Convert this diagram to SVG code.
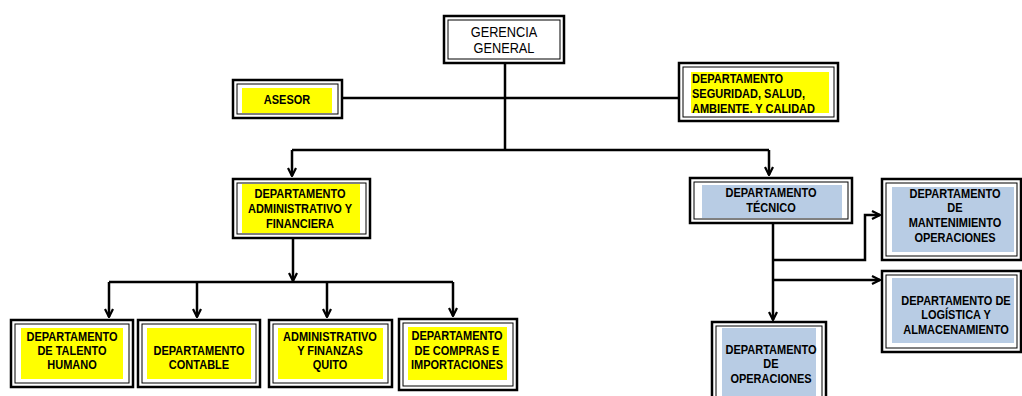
<svg xmlns="http://www.w3.org/2000/svg" width="1022" height="396" viewBox="0 0 1022 396">
<defs>
<style>
.ob{fill:#fff;stroke:#000;stroke-width:2.5}
.ib{fill:none;stroke:#000;stroke-width:1}
.y{fill:#ffff00}
.b{fill:#b8cce4}
.t{font-family:"Liberation Sans",Arial,sans-serif;font-weight:bold;font-size:12.5px;fill:#000;text-anchor:middle}
.tl{text-anchor:start}
.g{font-family:"Liberation Sans",Arial,sans-serif;font-size:14.5px;fill:#000;text-anchor:middle}
.c{fill:none;stroke:#000;stroke-width:2.5}
</style>
<marker id="ah" viewBox="0 0 10 10" refX="9" refY="5" markerWidth="4" markerHeight="4" orient="auto" markerUnits="strokeWidth">
<path d="M1,1 L9,5 L1,9" fill="none" stroke="#000" stroke-width="2.2"/>
</marker>
</defs>
<rect width="1022" height="396" fill="#fff"/>

<g id="connectors">
<path class="c" d="M505,63 V150"/>
<path class="c" d="M342,98 H679"/>
<path class="c" d="M292,150 H769"/>
<path class="c" d="M292,150 V176" marker-end="url(#ah)"/>
<path class="c" d="M769,150 V175" marker-end="url(#ah)"/>
<path class="c" d="M293,238 V281" marker-end="url(#ah)"/>
<path class="c" d="M109,282 H453"/>
<path class="c" d="M109,282 V317" marker-end="url(#ah)"/>
<path class="c" d="M197,282 V317" marker-end="url(#ah)"/>
<path class="c" d="M327,282 V317" marker-end="url(#ah)"/>
<path class="c" d="M453,282 V316" marker-end="url(#ah)"/>
<path class="c" d="M773,223 V320" marker-end="url(#ah)"/>
<path class="c" d="M773,260 H865 V215 H880" marker-end="url(#ah)"/>
<path class="c" d="M773,280 H880" marker-end="url(#ah)"/>
</g>

<g id="gerencia">
<rect class="ob" x="444" y="16" width="120" height="47"/>
<rect class="ib" x="448" y="20" width="112" height="39"/>
<g transform="translate(504 0) scale(0.88 1)">
<text class="g" x="0" y="37">GERENCIA</text>
<text class="g" x="0" y="53">GENERAL</text>
</g>
</g>

<g id="asesor">
<rect class="ob" x="233" y="80" width="109" height="38"/>
<rect class="ib" x="237" y="84" width="101" height="30"/>
<rect class="y" x="242" y="88" width="90" height="25"/>
<g transform="translate(287 0) scale(0.88 1)">
<text class="t" x="0" y="104">ASESOR</text>
</g>
</g>

<g id="seguridad">
<rect class="ob" x="679" y="63" width="159" height="58"/>
<rect class="ib" x="683" y="67" width="151" height="50"/>
<rect class="y" x="691" y="72" width="138" height="41"/>
<g transform="translate(692 0) scale(0.88 1)">
<text class="t tl" x="0" y="83">DEPARTAMENTO</text>
<text class="t tl" x="0" y="98">SEGURIDAD, SALUD,</text>
<text class="t tl" x="0" y="113">AMBIENTE. Y CALIDAD</text>
</g>
</g>

<g id="administrativo">
<rect class="ob" x="233" y="179" width="137" height="59"/>
<rect class="ib" x="237" y="183" width="129" height="51"/>
<rect class="y" x="242" y="184" width="118" height="49"/>
<g transform="translate(300 0) scale(0.88 1)">
<text class="t" x="0" y="198">DEPARTAMENTO</text>
<text class="t" x="0" y="213">ADMINISTRATIVO Y</text>
<text class="t" x="0" y="228">FINANCIERA</text>
</g>
</g>

<g id="tecnico">
<rect class="ob" x="690" y="178" width="162" height="45"/>
<rect class="ib" x="694" y="182" width="154" height="37"/>
<rect class="b" x="702" y="185" width="140" height="33"/>
<g transform="translate(771 0) scale(0.88 1)">
<text class="t" x="0" y="197">DEPARTAMENTO</text>
<text class="t" x="0" y="212">TÉCNICO</text>
</g>
</g>

<g id="mantenimiento">
<rect class="ob" x="882" y="179" width="139" height="81"/>
<rect class="ib" x="886" y="183" width="131" height="73"/>
<rect class="b" x="892" y="187" width="122" height="65"/>
<g transform="translate(955 0) scale(0.88 1)">
<text class="t" x="0" y="198">DEPARTAMENTO</text>
<text class="t" x="0" y="212">DE</text>
<text class="t" x="0" y="227">MANTENIMIENTO</text>
<text class="t" x="0" y="242">OPERACIONES</text>
</g>
</g>

<g id="logistica">
<rect class="ob" x="882" y="271" width="139" height="81"/>
<rect class="ib" x="886" y="275" width="131" height="73"/>
<rect class="b" x="892" y="278" width="122" height="65"/>
<g transform="translate(956 0) scale(0.88 1)">
<text class="t" x="0" y="305">DEPARTAMENTO DE</text>
<text class="t" x="0" y="319">LOGÍSTICA Y</text>
<text class="t" x="0" y="334">ALMACENAMIENTO</text>
</g>
</g>

<g id="operaciones">
<rect class="ob" x="712" y="322" width="114" height="80"/>
<rect class="ib" x="716" y="326" width="106" height="72"/>
<rect class="b" x="722" y="328" width="94" height="70"/>
<g transform="translate(771 0) scale(0.88 1)">
<text class="t" x="0" y="354">DEPARTAMENTO</text>
<text class="t" x="0" y="368">DE</text>
<text class="t" x="0" y="383">OPERACIONES</text>
</g>
</g>

<g id="talento">
<rect class="ob" x="11" y="320" width="122" height="67"/>
<rect class="ib" x="15" y="324" width="114" height="59"/>
<rect class="y" x="21" y="328" width="102" height="51"/>
<g transform="translate(72 0) scale(0.88 1)">
<text class="t" x="0" y="341">DEPARTAMENTO</text>
<text class="t" x="0" y="355">DE TALENTO</text>
<text class="t" x="0" y="369">HUMANO</text>
</g>
</g>

<g id="contable">
<rect class="ob" x="138" y="320" width="122" height="67"/>
<rect class="ib" x="142" y="324" width="114" height="59"/>
<rect class="y" x="147" y="328" width="104" height="51"/>
<g transform="translate(199 0) scale(0.88 1)">
<text class="t" x="0" y="355">DEPARTAMENTO</text>
<text class="t" x="0" y="369">CONTABLE</text>
</g>
</g>

<g id="quito">
<rect class="ob" x="269" y="320" width="123" height="67"/>
<rect class="ib" x="273" y="324" width="115" height="59"/>
<rect class="y" x="278" y="328" width="105" height="51"/>
<g transform="translate(330 0) scale(0.88 1)">
<text class="t" x="0" y="341">ADMINISTRATIVO</text>
<text class="t" x="0" y="355">Y FINANZAS</text>
<text class="t" x="0" y="369">QUITO</text>
</g>
</g>

<g id="compras">
<rect class="ob" x="399" y="319" width="118" height="71"/>
<rect class="ib" x="403" y="323" width="110" height="63"/>
<rect class="y" x="408" y="327" width="99" height="53"/>
<g transform="translate(457 0) scale(0.88 1)">
<text class="t" x="0" y="340">DEPARTAMENTO</text>
<text class="t" x="0" y="355">DE COMPRAS E</text>
<text class="t" x="0" y="369">IMPORTACIONES</text>
</g>
</g>
</svg>
